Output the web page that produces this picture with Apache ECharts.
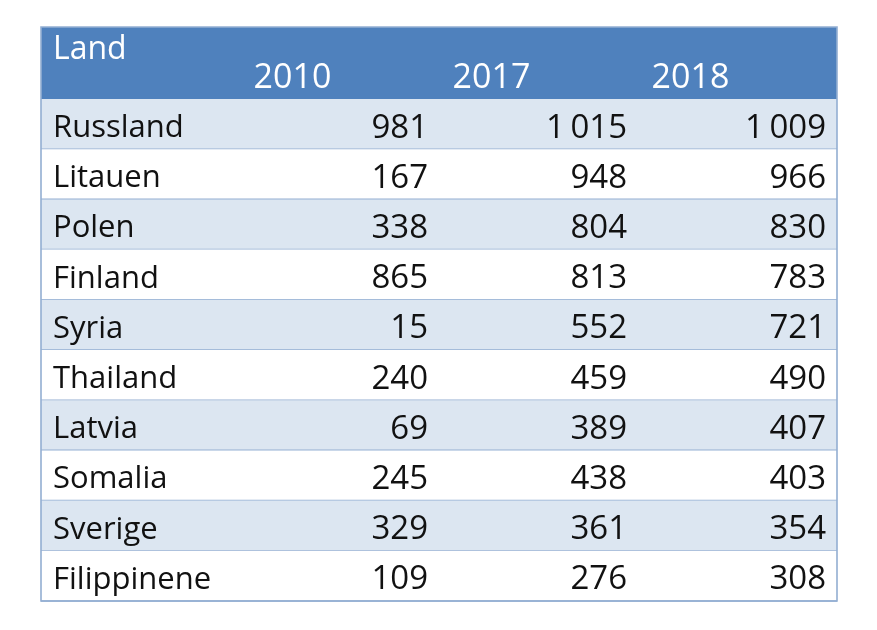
<!DOCTYPE html>
<html><head><meta charset="utf-8">
<script src="https://cdn.jsdelivr.net/npm/echarts@6/dist/echarts.min.js"></script>
<style>html,body{margin:0;background:#fff}#c{width:877px;height:630px}</style>
</head><body><div id="c"></div>
<script>
const columns = ['Land', '2010', '2017', '2018'];
const countries = ['Russland','Litauen','Polen','Finland','Syria','Thailand','Latvia','Somalia','Sverige','Filippinene'];
const v2010 = [981, 167, 338, 865, 15, 240, 69, 245, 329, 109];
const v2017 = [1015, 948, 804, 813, 552, 459, 389, 438, 361, 276];
const v2018 = [1009, 966, 830, 783, 721, 490, 407, 403, 354, 308];

const FONT = '"Open Sans", "Noto Sans", sans-serif';
const HEAD = '#4f81bd', LIGHT = '#dce6f1', LINE = '#93aed2';

function fmt(n) { return String(n).replace(/\B(?=(\d{3})+(?!\d))/g, '\u2009'); }

const cellData = [];
countries.forEach((name, r) => {
  cellData.push([0, r, name]);
  cellData.push([1, r, fmt(v2010[r])]);
  cellData.push([2, r, fmt(v2017[r])]);
  cellData.push([3, r, fmt(v2018[r])]);
});

const chart = echarts.init(document.getElementById('c'), null, {renderer: 'canvas'});
chart.setOption({
  animation: false,
  backgroundColor: '#fff',
  grid: {left: 41, right: 40, top: 99, bottom: 29},
  xAxis: {type: 'category', data: columns, show: false},
  yAxis: {type: 'category', data: countries, inverse: true, show: false},
  series: [
    {
      type: 'custom', z: 1,
      data: countries.map((_, i) => [0, i]),
      renderItem(params, api) {
        const cs = params.coordSys;
        const r = api.value(1);
        const y = api.coord([0, r])[1];
        const h = api.size([0, 1])[1];
        return {type: 'group', children: [
          {type: 'rect', shape: {x: cs.x, y: y - h / 2, width: cs.width, height: h},
           style: {fill: r % 2 === 0 ? LIGHT : '#ffffff'}},
          {type: 'line', shape: {x1: cs.x, y1: y + h / 2, x2: cs.x + cs.width, y2: y + h / 2},
           style: {stroke: LINE, lineWidth: 1.6}}
        ]};
      }
    },
    {
      type: 'custom', z: 3,
      data: columns.map((c, i) => [i, 0, c]),
      renderItem(params, api) {
        const cs = params.coordSys;
        const c = api.value(0);
        const p = api.coord([c, 0]);
        const bw = api.size([1, 0])[0];
        const label = columns[c];
        const children = [];
        if (c === 0) {
          children.push({type: 'rect', shape: {x: cs.x, y: cs.y - 72, width: cs.width, height: 72},
            style: {fill: HEAD}});
          children.push({type: 'rect', shape: {x: cs.x, y: cs.y - 72, width: cs.width, height: cs.height + 72},
            style: {fill: null, stroke: LINE, lineWidth: 1.6}});
          children.push({type: 'text', x: p[0] - bw / 2 + 12, y: cs.y - 49, z2: 5,
            style: {text: label, fill: '#fff', font: '32px ' + FONT, align: 'left', verticalAlign: 'middle'}});
        } else {
          children.push({type: 'text', x: p[0] - 47, y: cs.y - 21, z2: 5,
            style: {text: label, fill: '#fff', font: '34px ' + FONT, align: 'center', verticalAlign: 'middle'}});
        }
        return {type: 'group', children};
      }
    },
    {
      type: 'custom', z: 4,
      data: cellData,
      renderItem(params, api) {
        const c = api.value(0), r = api.value(1);
        const item = cellData[params.dataIndex];
        const p = api.coord([c, r]);
        const bw = api.size([1, 0])[0];
        const x = c === 0 ? p[0] - bw / 2 + 12 : p[0] + bw / 2 - 11;
        return {type: 'text', x: x, y: p[1] + 4,
          style: {text: item[2], fill: '#111', font: (c === 0 ? '31px ' : '33px ') + FONT,
                  align: c === 0 ? 'left' : 'right', verticalAlign: 'middle'}};
      }
    }
  ]
});
</script></body></html>
